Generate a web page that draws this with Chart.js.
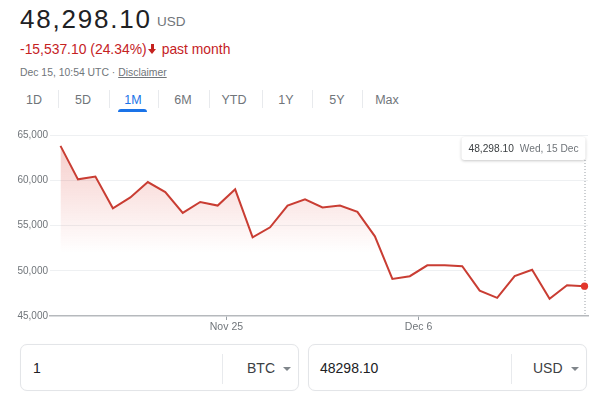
<!DOCTYPE html>
<html>
<head>
<meta charset="utf-8">
<script src="https://cdn.jsdelivr.net/npm/chart.js@4"></script>
<style>
  html,body{margin:0;padding:0;background:#fff;}
  body{width:600px;height:399px;position:relative;overflow:hidden;font-family:Arial,"Liberation Sans",sans-serif;}
  .abs{position:absolute;white-space:nowrap;}
  #price{left:20px;top:2px;font-size:26px;letter-spacing:1.8px;color:#202124;line-height:34px;}
  #cur{left:157px;top:13px;font-size:13.5px;color:#70757a;line-height:18px;}
  #chg{left:20px;top:40px;font-size:13.9px;color:#c5221f;line-height:18px;}
  #darr{display:inline-block;position:relative;width:9px;height:11px;margin:0 5px 0 1px;vertical-align:-1px;}
  #darr .stem{position:absolute;left:3px;top:0;width:3px;height:6px;background:#c5221f;}
  #darr .head{position:absolute;left:0;top:5px;width:0;height:0;border-left:4.5px solid transparent;border-right:4.5px solid transparent;border-top:5.5px solid #c5221f;}
  #meta{left:20px;top:66px;font-size:10.4px;color:#70757a;line-height:13px;}
  #meta u{text-decoration:underline;}
  .tab{top:92px;font-size:12.5px;color:#70757a;line-height:16px;transform:translateX(-50%);}
  .tab.on{color:#1a73e8;}
  .sep{top:90px;width:1px;height:18px;background:#e8eaed;}
  #ul{left:118px;top:109px;width:29px;height:3px;background:#1a73e8;border-radius:3px 3px 0 0;}
  #chartwrap{left:0;top:125px;width:600px;height:215px;}
  .box{top:344px;width:277px;height:45px;border:1px solid #e3e5e8;border-radius:7px;box-shadow:0 0 1px rgba(0,0,0,0.06);}
  .bdiv{top:9px;width:1px;height:30px;background:#e8eaed;}
  .btxt{top:14px;font-size:14px;color:#202124;line-height:18px;}
  .bcur{top:14px;font-size:14px;color:#3c4043;line-height:18px;}
  .tri{top:22px;width:0;height:0;border-left:4px solid transparent;border-right:4px solid transparent;border-top:4px solid #80868b;}
</style>
</head>
<body>
<div class="abs" id="price">48,298.10</div>
<div class="abs" id="cur">USD</div>
<div class="abs" id="chg">-15,537.10 (24.34%)<span id="darr"><span class="stem"></span><span class="head"></span></span>past month</div>
<div class="abs" id="meta">Dec 15, 10:54 UTC · <u>Disclaimer</u></div>

<div class="abs tab" style="left:34px">1D</div>
<div class="abs sep" style="left:58px"></div>
<div class="abs tab" style="left:83px">5D</div>
<div class="abs sep" style="left:109px"></div>
<div class="abs tab on" style="left:133px">1M</div>
<div class="abs sep" style="left:158px"></div>
<div class="abs tab" style="left:183px">6M</div>
<div class="abs sep" style="left:209px"></div>
<div class="abs tab" style="left:234px">YTD</div>
<div class="abs sep" style="left:262px"></div>
<div class="abs tab" style="left:286px">1Y</div>
<div class="abs sep" style="left:312px"></div>
<div class="abs tab" style="left:337px">5Y</div>
<div class="abs sep" style="left:362px"></div>
<div class="abs tab" style="left:387px">Max</div>
<div class="abs" id="ul"></div>

<div class="abs" id="chartwrap"><canvas id="c" width="600" height="215"></canvas></div>

<div class="abs box" style="left:20px">
  <div class="abs btxt" style="left:12px">1</div>
  <div class="abs bdiv" style="left:201px"></div>
  <div class="abs bcur" style="left:226px">BTC</div>
  <div class="abs tri" style="left:262px"></div>
</div>
<div class="abs box" style="left:308px">
  <div class="abs btxt" style="left:11px">48298.10</div>
  <div class="abs bdiv" style="left:202px"></div>
  <div class="abs bcur" style="left:224px">USD</div>
  <div class="abs tri" style="left:262px"></div>
</div>

<script>
const dates = ['Nov 15','Nov 16','Nov 17','Nov 18','Nov 19','Nov 20','Nov 21','Nov 22','Nov 23','Nov 24',
  'Nov 25','Nov 26','Nov 27','Nov 28','Nov 29','Nov 30','Dec 1','Dec 2','Dec 3','Dec 4','Dec 5',
  'Dec 6','Dec 7','Dec 8','Dec 9','Dec 10','Dec 11','Dec 12','Dec 13','Dec 14','Dec 15'];
const prices = [63800, 60100, 60400, 56900, 58100, 59800, 58700, 56400, 57600, 57200,
  59000, 53700, 54800, 57200, 57900, 57000, 57200, 56500, 53800, 49100, 49400,
  50600, 50600, 50500, 47800, 47000, 49400, 50100, 46900, 48400, 48298.10];
const xTickLabels = ['Nov 25', 'Dec 6'];
const yTicks = [45000, 50000, 55000, 60000, 65000];
const tooltipDate = 'Wed, 15 Dec';

const lastIdx = prices.length - 1;

const hoverPlugin = {
  id: 'hover',
  afterDatasetsDraw(chart) {
    const {ctx, chartArea, scales} = chart;
    const px = scales.x.getPixelForValue(lastIdx);
    const valTxt = prices[lastIdx].toLocaleString('en-US', {minimumFractionDigits: 2, maximumFractionDigits: 2});
    ctx.save();
    ctx.font = '10.2px Arial, "Liberation Sans", sans-serif';
    const w1 = ctx.measureText(valTxt).width;
    const w2 = ctx.measureText(tooltipDate).width;
    const bw = 7 + w1 + 6 + w2 + 7;
    const bh = 23;
    const bx = px + 1 - bw;
    const by = chartArea.top + 2;
    ctx.strokeStyle = '#9aa0a6';
    ctx.lineWidth = 1;
    ctx.setLineDash([1, 2]);
    ctx.beginPath();
    ctx.moveTo(px + 0.5, by + bh);
    ctx.lineTo(px + 0.5, chartArea.bottom);
    ctx.stroke();
    ctx.setLineDash([]);
    ctx.shadowColor = 'rgba(0,0,0,0.22)';
    ctx.shadowBlur = 3;
    ctx.shadowOffsetY = 1;
    ctx.fillStyle = '#fff';
    ctx.beginPath();
    ctx.roundRect(bx, by, bw, bh, 3);
    ctx.fill();
    ctx.shadowColor = 'transparent';
    ctx.textBaseline = 'middle';
    ctx.fillStyle = '#3c4043';
    ctx.fillText(valTxt, bx + 7, by + bh / 2 + 0.5);
    ctx.fillStyle = '#70757a';
    ctx.fillText(tooltipDate, bx + 7 + w1 + 6, by + bh / 2 + 0.5);
    const py = scales.y.getPixelForValue(prices[lastIdx]);
    ctx.fillStyle = '#e2372c';
    ctx.beginPath();
    ctx.arc(px, py, 3.6, 0, Math.PI * 2);
    ctx.fill();
    ctx.restore();
  }
};

new Chart(document.getElementById('c'), {
  type: 'line',
  data: {
    datasets: [{
      data: prices.map((p, i) => ({x: i, y: p})),
      borderColor: '#c93d33',
      borderWidth: 2,
      tension: 0,
      pointRadius: 0,
      fill: 'start',
      backgroundColor: (context) => {
        const {chart} = context;
        const area = chart.chartArea;
        if (!area) return 'rgba(217,48,37,0.15)';
        const g = chart.ctx.createLinearGradient(0, area.top, 0, chart.scales.y.getPixelForValue(52000));
        g.addColorStop(0, 'rgba(217,48,37,0.26)');
        g.addColorStop(1, 'rgba(217,48,37,0)');
        return g;
      }
    }]
  },
  options: {
    responsive: false,
    animation: false,
    events: [],
    layout: {padding: {left: 0, right: 12, top: 10, bottom: 0}},
    plugins: {legend: {display: false}, tooltip: {enabled: false}},
    scales: {
      x: {
        type: 'linear',
        min: -0.6,
        max: 30.2,
        afterBuildTicks: (s) => { s.ticks = xTickLabels.map(l => ({value: dates.indexOf(l) - 0.5})); },
        afterFit: (s) => { s.height = 24; },
        ticks: {
          autoSkip: false, maxRotation: 0, padding: 1,
          color: '#70757a', font: {size: 10.5, family: 'Arial, "Liberation Sans", sans-serif'},
          callback: (v, i) => xTickLabels[i]
        },
        grid: {drawOnChartArea: false, drawTicks: true, tickLength: 4, color: '#9aa0a6', lineWidth: 1},
        border: {display: true, color: '#b6b9bd', width: 1.5}
      },
      y: {
        min: 45000,
        max: 65000,
        afterBuildTicks: (s) => { s.ticks = yTicks.map(v => ({value: v})); },
        afterFit: (s) => { s.width = 50; },
        ticks: {
          padding: 2, color: '#70757a', font: {size: 10, family: 'Arial, "Liberation Sans", sans-serif'},
          callback: (v) => v.toLocaleString('en-US')
        },
        grid: {drawTicks: false, color: (c) => c.tick && c.tick.value === 45000 ? 'rgba(0,0,0,0)' : '#eef0f2'},
        border: {display: false}
      }
    }
  },
  plugins: [hoverPlugin]
});
</script>
</body>
</html>
